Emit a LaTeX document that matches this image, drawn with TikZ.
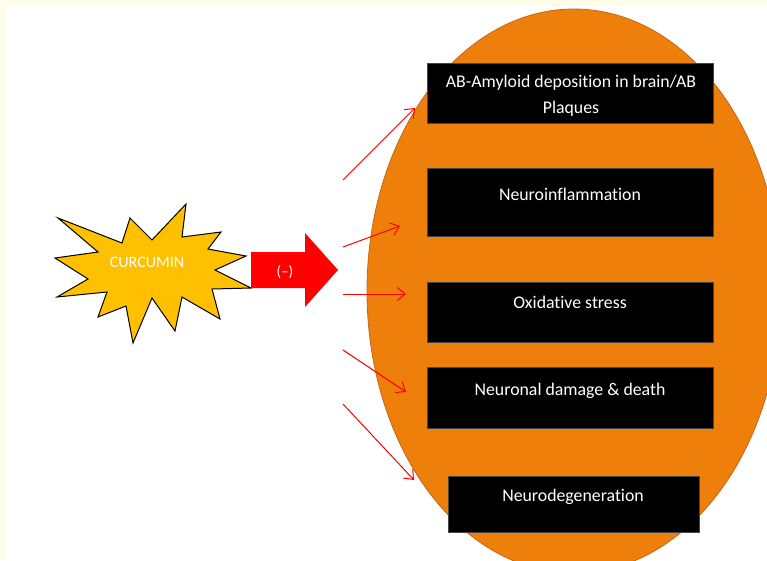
\documentclass[tikz,border=0pt]{standalone}
\usepackage{fontspec}
\setmainfont{Carlito}[Ligatures=NoCommon]
\usetikzlibrary{arrows.meta}
\definecolor{cream}{RGB}{255,253,232}
\definecolor{orangefill}{RGB}{238,127,11}
\definecolor{orangeedge}{RGB}{196,104,20}
\definecolor{gold}{RGB}{255,192,0}
\definecolor{arrowred}{RGB}{255,0,0}
\definecolor{boxedge}{RGB}{70,70,70}
\tikzset{
  blackbox/.style={draw=boxedge, line width=0.6pt, fill=black, anchor=north west, inner sep=0pt},
  boxtext/.style={text=white, font=\fontsize{17.8}{20}\selectfont, anchor=base, inner sep=0pt},
  thinarrow/.style={draw=arrowred, line width=1pt, -{Straight Barb[length=8pt,width=13pt,line width=1pt]}},
}
\begin{document}
\begin{tikzpicture}[x=1pt,y=-1pt]
\useasboundingbox (0,0) rectangle (767,560);
\fill[cream] (0,0) rectangle (767,560);
\fill[white] (6,6) rectangle (767,560);
\begin{scope}
  \clip (0,0) rectangle (767,560);
  \filldraw[fill=orangefill, draw=orangeedge, line width=0.8pt] (574,291) ellipse [x radius=207, y radius=282];
\end{scope}

% boxes
\node[blackbox, minimum width=286pt, minimum height=60pt] (b1) at (427,63) {};
\node[blackbox, minimum width=286pt, minimum height=68pt] (b2) at (427,168) {};
\node[blackbox, minimum width=286pt, minimum height=60pt] (b3) at (427,282) {};
\node[blackbox, minimum width=286pt, minimum height=61pt] (b4) at (427,367) {};
\node[blackbox, minimum width=251pt, minimum height=56pt] (b5) at (448,476) {};

\node[boxtext] (t1a) at (571,87) {AB-Amyloid deposition in brain/AB};
\node[boxtext] (t1b) at (571,113) {Plaques};
\node[boxtext] (t2) at (570,200) {Neuroinflammation};
\node[boxtext] (t3) at (570,308) {Oxidative stress};
\node[boxtext] (t4) at (570,395) {Neuronal damage \& death};
\node[boxtext] (t5) at (573,501) {Neurodegeneration};

% starburst
\filldraw[fill=gold, draw=black, line width=1pt, line join=miter]
  (58,218) -- (122,243) -- (130,218) -- (152,240) -- (186,204) -- (182,237)
  -- (221,232) -- (208,249) -- (246,256) -- (215,270) -- (251,288) -- (212,289)
  -- (220,319) -- (182,297) -- (175,331) -- (152,298) -- (133,343) -- (126,306)
  -- (98,317) -- (107,292) -- (57,297) -- (88,279) -- (55,258) -- (98,252) -- cycle;
\node[text=white, font=\fontsize{16}{18}\selectfont, anchor=base, inner sep=0pt] (cur) at (147,267) {CURCUMIN};

% block arrow
\fill[arrowred] (251,252) -- (305,252) -- (305,233) -- (338,270) -- (305,307) -- (305,288) -- (251,288) -- cycle;
\node[text=white, font=\fontsize{15}{18}\selectfont, inner sep=0pt] (minus) at (285,272) {(–)};

% thin arrows
\coordinate (s1) at (343,180); \coordinate (e1) at (415,108);
\coordinate (s2) at (343,247); \coordinate (e2) at (400,226);
\coordinate (s3) at (343,294); \coordinate (e3) at (406,294);
\coordinate (s4) at (343,350); \coordinate (e4) at (406,392);
\coordinate (s5) at (343,404); \coordinate (e5) at (414,480);
\draw[thinarrow] (s1) -- (e1);
\draw[thinarrow] (s2) -- (e2);
\draw[thinarrow] (s3) -- (e3);
\draw[thinarrow] (s4) -- (e4);
\draw[thinarrow] (s5) -- (e5);
\end{tikzpicture}
\end{document}
